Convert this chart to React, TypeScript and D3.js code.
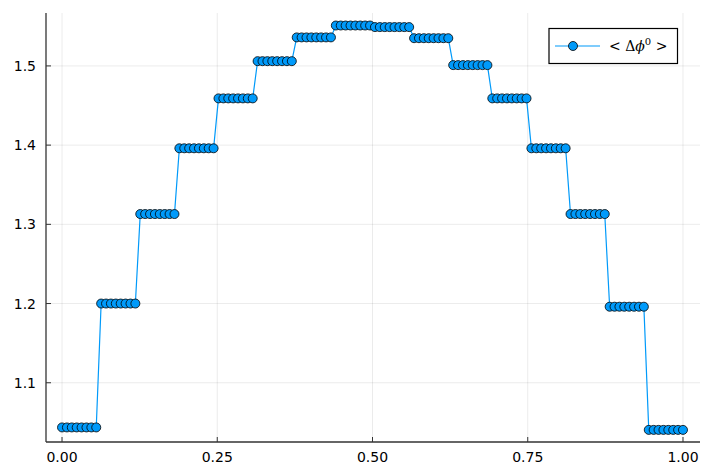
import React from "react";
import * as d3 from "d3";

const groupValues = [1.0436, 1.2, 1.313, 1.396, 1.459, 1.506, 1.536, 1.551, 1.549, 1.535, 1.501, 1.459, 1.396, 1.313, 1.196, 1.0405];
const pointsPerGroup = 8;
const xTicks = [0, 0.25, 0.5, 0.75, 1.0];
const yTicks = [1.1, 1.2, 1.3, 1.4, 1.5];

const W = 714, H = 476;
const left = 46, right = 700, top = 13, bottom = 442;

export default function App() {
  const n = groupValues.length * pointsPerGroup;
  const data = d3.range(n).map((i) => ({ x: i / (n - 1), y: groupValues[Math.floor(i / pointsPerGroup)] }));
  const x = d3.scaleLinear().domain([-0.0258, 1.0274]).range([left, right]);
  const y = d3.scaleLinear().domain([1.0252, 1.5668]).range([bottom, top]);
  const line = d3.line<{ x: number; y: number }>().x((d) => x(d.x)).y((d) => y(d.y));
  const color = "#009afa";
  const font = "'DejaVu Sans', sans-serif";
  return (
    <svg width={W} height={H} style={{ position: "absolute", left: 0, top: 0, background: "#fff" }}>
      <rect width={W} height={H} fill="#fff" />
      {xTicks.map((t) => (
        <line key={"gx" + t} x1={x(t)} x2={x(t)} y1={top} y2={bottom} stroke="#000" strokeOpacity={0.1} strokeWidth={0.8} />
      ))}
      {yTicks.map((t) => (
        <line key={"gy" + t} x1={left} x2={right} y1={y(t)} y2={y(t)} stroke="#000" strokeOpacity={0.1} strokeWidth={0.8} />
      ))}
      <line x1={left} x2={left} y1={top} y2={bottom} stroke="#333" strokeWidth={1.3} />
      <line x1={left} x2={right} y1={bottom} y2={bottom} stroke="#333" strokeWidth={1.3} />
      {xTicks.map((t) => (
        <g key={"tx" + t}>
          <line x1={x(t)} x2={x(t)} y1={bottom} y2={bottom - 5} stroke="#333" strokeWidth={1} />
          <text x={x(t)} y={bottom + 19.5} textAnchor="middle" fontFamily={font} fontSize={14} fill="#000">
            {t.toFixed(2)}
          </text>
        </g>
      ))}
      {yTicks.map((t) => (
        <g key={"ty" + t}>
          <line x1={left} x2={left + 5} y1={y(t)} y2={y(t)} stroke="#333" strokeWidth={1} />
          <text x={left - 10} y={y(t)} dy="0.36em" textAnchor="end" fontFamily={font} fontSize={14} fill="#000">
            {t.toFixed(1)}
          </text>
        </g>
      ))}
      <path d={line(data) || ""} fill="none" stroke={color} strokeWidth={1.2} />
      {data.map((d, i) => (
        <circle key={i} cx={x(d.x)} cy={y(d.y)} r={4.5} fill={color} stroke="#000" strokeWidth={0.8} />
      ))}
      <g>
        <rect x={549} y={28.5} width={128.5} height={35} fill="#fff" stroke="#000" strokeWidth={1.2} />
        <line x1={555} x2={600} y1={46} y2={46} stroke={color} strokeWidth={1.2} />
        <circle cx={573} cy={46} r={4.5} fill={color} stroke="#000" strokeWidth={0.8} />
        <text x={609} y={51} fontFamily="'DejaVu Serif', serif" fontSize={14} fill="#000">
          {"< Δ"}
          <tspan fontStyle="italic">ϕ</tspan>
          <tspan dy={-6} fontSize={10}>0</tspan>
          <tspan dy={6}>{" >"}</tspan>
        </text>
      </g>
    </svg>
  );
}
